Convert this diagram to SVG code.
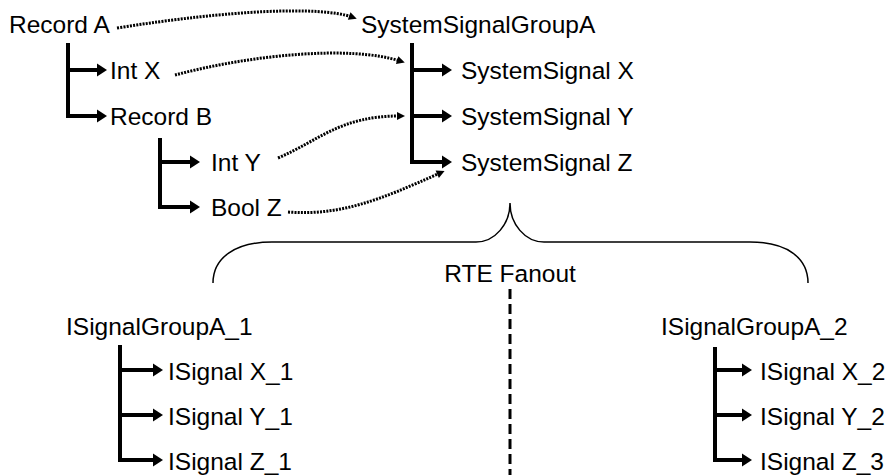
<svg xmlns="http://www.w3.org/2000/svg" width="892" height="475" viewBox="0 0 892 475">
<style>
text{font-family:"Liberation Sans",Arial,Helvetica,sans-serif;font-size:24.5px;fill:#000}
.tree{fill:none;stroke:#000;stroke-width:4;stroke-linejoin:miter;marker-end:url(#ta)}
.dot{fill:none;stroke:#000;stroke-width:3;stroke-dasharray:2 1.2;marker-end:url(#da)}
.brace{fill:none;stroke:#000;stroke-width:1.5}
.dash{fill:none;stroke:#000;stroke-width:3;stroke-dasharray:10 5}
</style>
<defs>
<marker id="ta" markerUnits="userSpaceOnUse" markerWidth="12" markerHeight="14" refX="4" refY="6.5" orient="auto" overflow="visible">
<path d="M0,0 L10,6.5 L0,13 z" fill="#000"/>
</marker>
<marker id="da" markerUnits="userSpaceOnUse" markerWidth="10" markerHeight="10" refX="3" refY="4" orient="auto" overflow="visible">
<path d="M0,0 L8,4 L0,8 z" fill="#000"/>
</marker>
</defs>
<g id="record-a"><text x="9" y="33">Record A</text></g>
<g id="int-x"><text x="110" y="79">Int X</text></g>
<g id="record-b"><text x="110" y="125">Record B</text></g>
<g id="int-y"><text x="211" y="171">Int Y</text></g>
<g id="bool-z"><text x="211" y="216">Bool Z</text></g>
<g id="system-signal-group-a"><text x="361" y="33">SystemSignalGroupA</text></g>
<g id="system-signal-x"><text x="461" y="79">SystemSignal X</text></g>
<g id="system-signal-y"><text x="461" y="125">SystemSignal Y</text></g>
<g id="system-signal-z"><text x="461" y="171">SystemSignal Z</text></g>
<g id="rte-fanout"><text x="510" y="282" text-anchor="middle">RTE Fanout</text>
<path class="brace" d="M213,283 C213,258 235,242 272,242 H476 C495,242 510,224 510,203 C510,224 525,242 544,242 H750 C787,242 808,258 808,283"/></g>
<g id="isignal-group-a-1"><text x="66" y="335">ISignalGroupA_1</text></g>
<g id="isignal-x-1"><text x="168" y="380">ISignal X_1</text></g>
<g id="isignal-y-1"><text x="168" y="425">ISignal Y_1</text></g>
<g id="isignal-z-1"><text x="168" y="470">ISignal Z_1</text></g>
<g id="isignal-group-a-2"><text x="661" y="335">ISignalGroupA_2</text></g>
<g id="isignal-x-2"><text x="760" y="380">ISignal X_2</text></g>
<g id="isignal-y-2"><text x="760" y="425">ISignal Y_2</text></g>
<g id="isignal-z-3"><text x="760" y="470">ISignal Z_3</text></g>
<g id="connectors">
<path class="tree" d="M68,70 H101"/>
<path class="tree" d="M68,43 V116 H101"/>
<path class="tree" d="M160,162 H194"/>
<path class="tree" d="M160,138 V207 H194"/>
<path class="tree" d="M412,70 H446"/>
<path class="tree" d="M412,116 H446"/>
<path class="tree" d="M412,43 V162 H446"/>
<path class="tree" d="M120,370 H157"/>
<path class="tree" d="M120,415 H157"/>
<path class="tree" d="M120,345 V460 H157"/>
<path class="tree" d="M715,370 H746"/>
<path class="tree" d="M715,415 H746"/>
<path class="tree" d="M715,347 V460 H746"/>
<path class="dot" d="M117,28 C230,10 320,6 352,17"/>
<path class="dot" d="M175,75 C250,55 350,45 400,61"/>
<path class="dot" d="M278,158 C320,140 340,116 400,116"/>
<path class="dot" d="M288,212 C340,216 380,200 440,173"/>
<path class="dash" d="M510,289 V475"/>
</g>
</svg>
